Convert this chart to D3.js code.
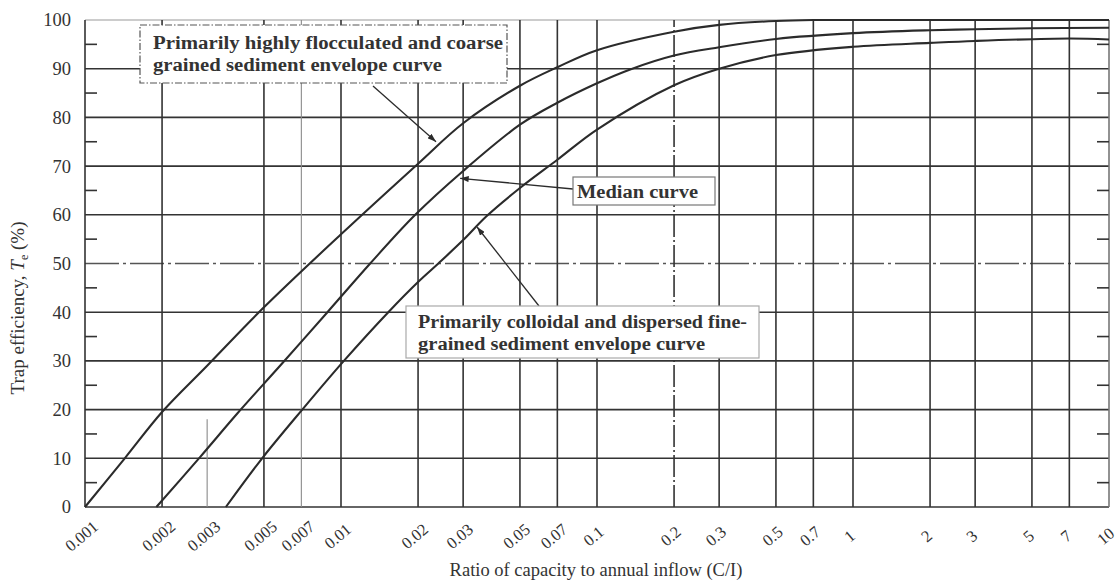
<!DOCTYPE html>
<html>
<head>
<meta charset="utf-8">
<script src="https://cdn.jsdelivr.net/npm/d3@7"></script>
<style>
  body { margin: 0; background: #fff; }
  svg { display: block; font-family: "Liberation Serif", "DejaVu Serif", serif; }
</style>
</head>
<body>
<div id="chart"></div>
<script>
// tick values and labels
var xTicks = [0.001, 0.002, 0.003, 0.005, 0.007, 0.01, 0.02, 0.03, 0.05, 0.07, 0.1, 0.2, 0.3, 0.5, 0.7, 1, 2, 3, 5, 7, 10];
var xTickLabels = ["0.001", "0.002", "0.003", "0.005", "0.007", "0.01", "0.02", "0.03", "0.05", "0.07", "0.1", "0.2", "0.3", "0.5", "0.7", "1", "2", "3", "5", "7", "10"];
var yTicks = [0, 10, 20, 30, 40, 50, 60, 70, 80, 90, 100];
var yMinorTicks = [5, 15, 25, 35, 45, 55, 65, 75, 85, 95];

// curves (C/I, trap efficiency %)
var coarseX = [0.001, 0.00143, 0.002, 0.003, 0.005, 0.01, 0.02, 0.03, 0.05, 0.07, 0.1, 0.2, 0.3, 0.5, 0.7, 1, 10];
var coarseT = [0, 10, 19.5, 29, 41, 56, 70.5, 78.8, 86.5, 90.3, 93.8, 97.6, 99, 99.8, 100, 100, 100];

var medianX = [0.0019, 0.00282, 0.00395, 0.00585, 0.00885, 0.013, 0.0195, 0.03, 0.05, 0.07, 0.1, 0.134, 0.2, 0.3, 0.5, 1, 2, 3, 5, 10];
var medianT = [0, 10.3, 19.3, 29.3, 40, 50, 60, 69, 78.5, 83, 87, 89.8, 92.7, 94.4, 96.1, 97.3, 97.9, 98.1, 98.3, 98.4];

var fineX = [0.00355, 0.00492, 0.00706, 0.01026, 0.0153, 0.02, 0.024, 0.03, 0.037, 0.05, 0.07, 0.1, 0.2, 0.3, 0.5, 1, 2, 3, 7, 10];
var fineT = [0, 10, 20, 30, 40, 46.2, 50, 54.8, 59.7, 65.5, 71.3, 77.5, 86.6, 90, 92.8, 94.5, 95.3, 95.7, 96.2, 96];

var width = 1118, height = 581;
var ink = "#2b2b2b";

var svg = d3.select("#chart").append("svg")
	.attr("width", width)
	.attr("height", height);

var x = d3.scaleLog().domain([0.001, 10]).range([85, 1109]);
var y = d3.scaleLinear().domain([0, 100]).range([507, 20]);

var defs = svg.append("defs");
defs.append("marker")
	.attr("id", "arrow")
	.attr("viewBox", "0 0 10 7")
	.attr("refX", 10).attr("refY", 3.5)
	.attr("markerWidth", 9).attr("markerHeight", 6)
	.attr("markerUnits", "userSpaceOnUse")
	.attr("orient", "auto")
	.append("path").attr("d", "M0,0L10,3.5L0,7z").attr("fill", ink);

// horizontal grid
svg.append("g").selectAll("line")
	.data(yTicks)
	.enter().append("line")
	.attr("x1", x(0.001)).attr("x2", x(10))
	.attr("y1", function (d) { return y(d); })
	.attr("y2", function (d) { return y(d); })
	.attr("stroke", function (d) { return d === 100 ? "#999" : (d === 50 ? "#555" : "#333"); })
	.attr("stroke-width", function (d) { return d === 100 ? 1.2 : 1.6; })
	.attr("stroke-dasharray", function (d) { return d === 50 ? "34,4,3,4" : null; });

// vertical grid
svg.append("g").selectAll("line")
	.data(xTicks)
	.enter().append("line")
	.attr("x1", function (d) { return x(d); })
	.attr("x2", function (d) { return x(d); })
	.attr("y1", y(0))
	.attr("y2", function (d) { return d === 0.003 ? y(18) : y(100); })
	.attr("stroke", function (d) {
		if (d === 0.007 || d === 0.003) return "#8a8a8a";
		if (d === 10) return "#777";
		return "#333";
	})
	.attr("stroke-width", function (d) { return (d === 0.007 || d === 0.003) ? 1.1 : 1.6; })
	.attr("stroke-dasharray", function (d) { return d === 0.2 ? "22,3,2,3" : null; });

// minor ticks on both sides
svg.append("g").selectAll("line")
	.data(yMinorTicks)
	.enter().append("line")
	.attr("x1", x(0.001)).attr("x2", x(0.001) + 12)
	.attr("y1", function (d) { return y(d); })
	.attr("y2", function (d) { return y(d); })
	.attr("stroke", "#333").attr("stroke-width", 1.6);
svg.append("g").selectAll("line")
	.data(yMinorTicks)
	.enter().append("line")
	.attr("x1", x(10) - 12).attr("x2", x(10))
	.attr("y1", function (d) { return y(d); })
	.attr("y2", function (d) { return y(d); })
	.attr("stroke", "#333").attr("stroke-width", 1.6);

// curves
var line = d3.line()
	.x(function (d) { return x(d[0]); })
	.y(function (d) { return y(d[1]); })
	.curve(d3.curveCatmullRom.alpha(0.5));

[d3.zip(coarseX, coarseT), d3.zip(medianX, medianT), d3.zip(fineX, fineT)].forEach(function (pts) {
	svg.append("path")
		.datum(pts)
		.attr("d", line)
		.attr("fill", "none")
		.attr("stroke", ink)
		.attr("stroke-width", 2.1);
});

// axes
var xAxis = svg.append("g")
	.attr("transform", "translate(0," + y(0) + ")")
	.call(d3.axisBottom(x).tickValues(xTicks)
		.tickFormat(function (d, i) { return xTickLabels[i]; })
		.tickSize(0));
xAxis.select(".domain").remove();
xAxis.selectAll("text")
	.attr("y", 0).attr("dy", "0.35em")
	.attr("text-anchor", "middle")
	.attr("transform", "translate(-4,29) rotate(-40)")
	.attr("font-size", 16.5)
	.attr("font-family", "Liberation Serif, serif")
	.attr("fill", "#333");

var yAxis = svg.append("g")
	.attr("transform", "translate(" + x(0.001) + ",0)")
	.call(d3.axisLeft(y).tickValues(yTicks).tickSize(0).tickPadding(14));
yAxis.select(".domain").remove();
yAxis.selectAll("text")
	.attr("font-size", 18.5)
	.attr("font-family", "Liberation Serif, serif")
	.attr("fill", "#333");

// axis titles
svg.append("text")
	.attr("x", 596).attr("y", 576)
	.attr("text-anchor", "middle")
	.attr("font-size", 18.5)
	.attr("fill", "#333")
	.text("Ratio of capacity to annual inflow (C/I)");

var yTitle = svg.append("text")
	.attr("transform", "translate(24,308) rotate(-90)")
	.attr("text-anchor", "middle")
	.attr("font-size", 19)
	.attr("fill", "#333");
yTitle.append("tspan").text("Trap efficiency, ");
yTitle.append("tspan").attr("font-style", "italic").text("T");
yTitle.append("tspan").attr("font-size", 12).attr("dy", 4).text("e");
yTitle.append("tspan").attr("dy", -4).text(" (%)");

// annotations
var notes = [
	{ box: [140, 25, 367, 58], dash: "7,2,1.5,2", stroke: "#555",
		lines: [["Primarily highly flocculated and coarse", 153, 49, 350], ["grained sediment envelope curve", 153, 71, 289]],
		from: [373, 86], to: [0.0235, 75] },
	{ box: [573, 177, 142, 28], dash: null, stroke: "#777",
		lines: [["Median curve", 577, 198, 121]],
		from: [573, 189], to: [0.0292, 67.5] },
	{ box: [406, 306, 353, 52], dash: null, stroke: "#aaa",
		lines: [["Primarily colloidal and dispersed fine-", 418, 328, 329], ["grained sediment envelope curve", 418, 350, 287]],
		from: [539, 306], to: [0.034, 57.5] }
];

notes.forEach(function (n) {
	svg.append("line")
		.attr("x1", n.from[0]).attr("y1", n.from[1])
		.attr("x2", x(n.to[0])).attr("y2", y(n.to[1]))
		.attr("stroke", ink).attr("stroke-width", 1.3)
		.attr("marker-end", "url(#arrow)");
	svg.append("rect")
		.attr("x", n.box[0]).attr("y", n.box[1])
		.attr("width", n.box[2]).attr("height", n.box[3])
		.attr("fill", "#fff")
		.attr("stroke", n.stroke).attr("stroke-width", 1.2)
		.attr("stroke-dasharray", n.dash);
	n.lines.forEach(function (l) {
		svg.append("text")
			.attr("x", l[1]).attr("y", l[2])
			.attr("textLength", l[3])
			.attr("lengthAdjust", "spacingAndGlyphs")
			.attr("font-size", 18)
			.attr("font-weight", "bold")
			.attr("fill", "#333")
			.text(l[0]);
	});
});
</script>
</body>
</html>
